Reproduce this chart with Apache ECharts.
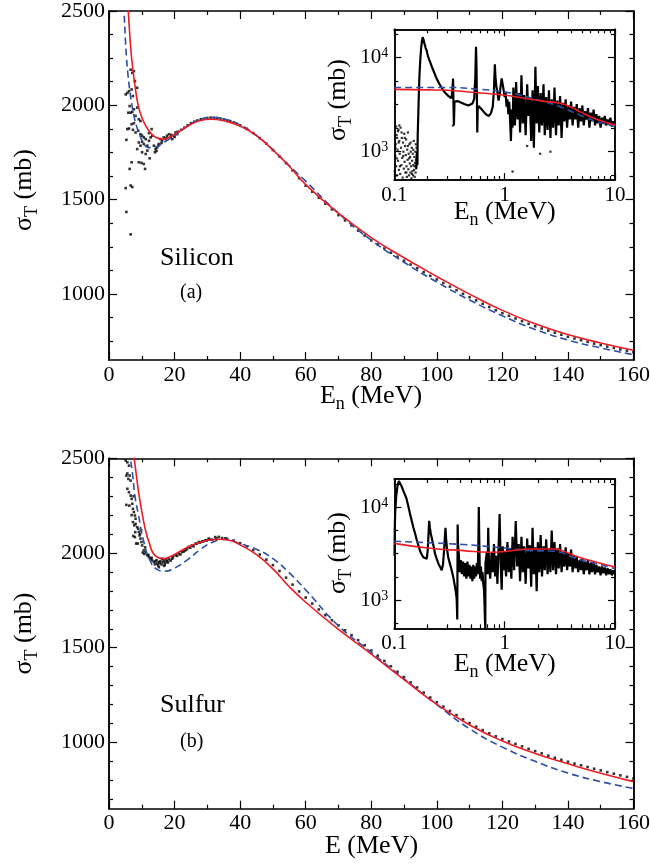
<!DOCTYPE html>
<html><head><meta charset="utf-8">
<script src="https://cdn.jsdelivr.net/npm/echarts@6/dist/echarts.min.js"></script>
<style>html,body{margin:0;padding:0;background:#fff}#c{width:653px;height:864px}</style>
</head><body><div id="c"></div><script>
// ---------- DATA ----------
const mainYMajor = [1000, 1500, 2000, 2500];
const siYMinor = [750, 875, 1125, 1250, 1375, 1625, 1750, 1875, 2125, 2250, 2375];
const sYMinor = [700, 800, 900, 1100, 1200, 1300, 1400, 1600, 1700, 1800, 1900, 2100, 2200, 2300, 2400];
const insetXMajor = [0.1, 1, 10];
const insetXMinor = [0.2, 0.3, 0.4, 0.5, 0.6, 0.7, 0.8, 0.9, 2, 3, 4, 5, 6, 7, 8, 9];
const insetYMajor = [1000, 10000];
const insetYMinor = [562, 1778, 3162, 5623, 17783];

// Silicon, main panel
const siRed = [[5.8,2520],[6.2,2410],[6.6,2310],[7.0,2235],[7.5,2160],[8.0,2095],[8.9,2000],[10,1937],[11.2,1892],[12.5,1858],[14.2,1831],[16.5,1821],[19,1836],[21.5,1862],[25,1900],[28,1920],[31,1926],[35,1918],[40,1890],[45,1839],[50,1763],[55,1677],[60,1580],[70,1428],[80,1299],[90,1192],[100,1093],[110,999],[120,913],[130,842],[140,785],[150,740],[160,702]];
const siBlue = [[4.3,2650],[4.6,2500],[5.0,2350],[5.3,2260],[5.8,2160],[6.3,2085],[7.0,2000],[7.6,1944],[8.3,1895],[9.1,1856],[10.0,1815],[10.8,1790],[12,1776],[13.5,1776],[15,1785],[16.5,1800],[18.5,1822],[21,1852],[25,1902],[28,1926],[31,1935],[35,1927],[40,1896],[45,1840],[50,1765],[55,1680],[60,1598],[70,1428],[80,1285],[90,1168],[100,1063],[110,968],[120,884],[130,812],[140,756],[150,714],[160,678]];
const siDataLow = [[5.1,2058],[5.6,2066],[6.1,2075],[6.6,2189],[7.1,2172],[7.6,2181],[7.9,2128],[8.6,2093],[6.9,2084],[7.3,2049],[6.3,1996],[5.9,1961],[6.6,1961],[7.1,1965],[7.6,1979],[8.1,1944],[8.6,1988],[9.1,1926],[9.6,1917],[6.9,1900],[7.6,1905],[5.6,1874],[6.1,1877],[7.3,1870],[8.1,1856],[8.9,1865],[9.6,1847],[10.1,1839],[10.6,1830],[11.2,1821],[9.1,1803],[9.6,1786],[10.1,1807],[10.6,1795],[11.7,1786],[12.2,1812],[12.7,1830],[13.2,1839],[13.0,1874],[12.2,1853],[5.3,1817],[8.6,1768],[10.1,1751],[11.2,1742],[11.7,1760],[12.4,1719],[14.2,1768],[14.7,1777],[15.2,1795],[15.7,1821],[16.2,1812],[16.7,1830],[17.2,1821],[17.7,1839],[18.3,1847],[18.8,1830],[19.3,1821],[19.8,1839],[20.3,1856],[20.8,1847],[9.1,1698],[9.9,1695],[10.6,1689],[11.0,1663],[6.9,1698],[6.3,1663],[6.6,1575],[7.1,1567],[5.1,1561],[5.3,1435],[6.6,1316],[14.0,1751],[14.5,1758],[15.0,1786],[13.7,1786],[16.0,1800],[17.5,1826],[19.0,1843],[20.0,1832],[21.0,1860]];
const siDataBand = [[22,1870],[23,1881],[24,1894],[25,1905],[26,1913],[27,1920],[28,1926],[29,1929],[30,1933],[31,1935],[32,1934],[33,1933],[34,1930],[35,1926],[36,1921],[37,1916],[38,1909],[39,1902],[40,1894],[42,1875],[44,1853],[46,1826],[48,1797],[50,1763],[52,1729],[54,1694],[56,1655],[58,1614],[60,1574],[62,1542],[64,1510],[66,1479],[68,1448],[70,1418],[72,1390],[74,1363],[76,1336],[78,1310],[80,1284],[82,1263],[84,1241],[86,1219],[88,1197],[90,1176],[92,1156],[94,1136],[96,1116],[98,1096],[100,1077],[102,1058],[104,1039],[106,1020],[108,1001],[110,983],[112,966],[114,948],[116,931],[118,914],[120,898],[122,884],[124,870],[126,856],[128,842],[130,829],[132,817],[134,806],[136,795],[138,784],[140,773],[142,764],[144,755],[146,746],[148,737],[150,729],[152,721],[154,714],[156,706],[158,699],[160,692]];

// Silicon, inset (log-log)
const siInsRed = [[0.1,4592],[0.2,4540],[0.3,4500],[0.5,4280],[0.97,4000],[1.5,3700],[2.2,3450],[3.18,3266],[4.0,2980],[4.8,2666],[6.8,2215],[10,1928]];
const siInsBlue = [[0.1,4820],[0.3,4820],[0.6,4600],[0.97,4340],[1.5,3900],[2.2,3450],[3.18,3006],[4.8,2455],[6.8,2090],[10,1850]];
const siInsLow = [[0.101,620],[0.102,900],[0.103,1200],[0.104,700],[0.105,1500],[0.106,560],[0.107,1050],[0.108,800],[0.109,1700],[0.110,640],[0.111,1300],[0.112,950],[0.113,580],[0.114,1800],[0.115,1100],[0.116,720],[0.117,1400],[0.118,860],[0.119,530],[0.120,1250],[0.121,1000],[0.122,660],[0.123,1550],[0.124,780],[0.125,1150],[0.126,600],[0.127,920],[0.128,1350],[0.129,700],[0.130,540],[0.131,1050],[0.132,820],[0.133,1600],[0.134,650],[0.135,950],[0.136,560],[0.137,1200],[0.138,750],[0.139,880],[0.140,600],[0.141,1000],[0.142,700],[0.143,520],[0.144,1100],[0.145,800],[0.146,620],[0.147,950],[0.148,560],[0.149,720],[0.150,1300],[0.151,640],[0.152,880],[0.153,540],[0.154,760],[0.155,1000],[0.156,600],[0.157,820],[0.158,700],[0.159,1100],[0.104,1850],[0.108,1650],[0.111,1900],[0.106,1400],[0.1025,1100],[0.1055,850],[0.1095,1250],[0.1125,700],[0.1165,1600],[0.1205,900],[0.1245,1400],[0.1285,600],[0.1325,1150],[0.1365,850],[0.1405,1250],[0.1445,580],[0.1485,1050],[0.1525,700],[0.1565,1200],[1.18,615],[2.1,950],[1.6,1150],[2.6,1000],[0.34,1900]];
const siInsData = [[0.158,650],[0.16,1000],[0.162,720],[0.163,1500],[0.165,2500],[0.167,4200],[0.169,6500],[0.172,9500],[0.175,12500],[0.178,15000],[0.181,16500],[0.184,15500],[0.188,14000],[0.192,12800],[0.197,11800],[0.2,10800],[0.205,9800],[0.211,9000],[0.218,8100],[0.226,7300],[0.235,6500],[0.245,5800],[0.255,5300],[0.265,4900],[0.278,4500],[0.29,4200],[0.3,4050],[0.31,3900],[0.32,3800],[0.33,3700],[0.336,4500],[0.341,6000],[0.344,3000],[0.347,1900],[0.351,3400],[0.36,3550],[0.375,3450],[0.39,3400],[0.41,3300],[0.43,3220],[0.45,3150],[0.47,3100],[0.49,3100],[0.51,3250],[0.53,3650],[0.543,6500],[0.55,13000],[0.555,9000],[0.56,4000],[0.565,1600],[0.57,2900],[0.58,3050],[0.6,2950],[0.63,2750],[0.66,2580],[0.69,2450],[0.72,2400],[0.75,2550],[0.78,3000],[0.8,4500],[0.815,8500],[0.825,6300],[0.84,5000],[0.86,4300],[0.88,3500],[0.9,4000],[0.92,5000],[0.94,6000],[0.96,5200],[0.98,4500],[1.0,3800],[1.02,4300],[1.04,3000],[1.06,3600],[1.08,2500],[1.1,3400],[1.12,2200],[1.14,1300],[1.16,2800],[1.18,1800],
[1.2,4800],[1.24,1900],[1.27,5500],[1.31,2200],[1.35,4200],[1.38,1600],[1.42,6500],[1.46,2000],[1.5,4000],[1.55,1500],[1.6,5200],[1.64,2400],[1.69,3800],[1.74,1300],[1.79,4500],[1.84,1100],[1.9,8000],[1.95,2000],[2.0,5000],[2.06,1600],[2.12,4200],[2.18,1900],[2.25,5200],[2.31,1500],[2.38,3800],[2.45,1700],[2.52,4500],[2.6,1400],[2.67,3600],[2.75,1800],[2.83,4800],[2.92,1500],[3.0,3500],[3.09,1900],[3.18,3900],[3.28,1400],[3.37,3300],[3.47,2100],[3.57,3600],[3.68,1800],[3.79,3100],[3.9,2200],[4.0,3400],[4.13,1900],[4.25,3000],[4.38,2200],[4.5,3200],[4.64,1800],[4.78,2900],[4.92,2100],[5.06,3100],[5.21,1900],[5.37,2700],[5.53,2200],[5.69,2900],[5.86,1800],[6.03,2600],[6.21,2100],[6.4,2800],[6.59,1900],[6.78,2500],[6.98,2000],[7.19,2400],[7.4,1800],[7.62,2300],[7.85,2000],[8.08,2400],[8.32,1900],[8.57,2200],[8.82,1950],[9.08,2300],[9.35,1850],[9.63,2100],[9.9,1950]];

// Sulfur, main panel
const sRed = [[7.3,2560],[7.6,2514],[8.5,2390],[9.4,2280],[10.6,2163],[11.4,2102],[12.2,2058],[13.4,2000],[14.9,1976],[16.5,1970],[18,1976],[20,1992],[22,2012],[24.3,2033],[28,2058],[31,2070],[34,2073],[37,2066],[40,2043],[45,1991],[50,1916],[55,1822],[60,1740],[70,1597],[80,1466],[90,1331],[100,1201],[110,1092],[120,1007],[130,942],[140,887],[150,837],[160,793]];
const sBlue = [[6.3,2600],[6.6,2500],[7.3,2400],[8.0,2290],[9,2200],[10.5,2067],[12.5,1961],[14.5,1915],[17,1904],[20,1920],[24,1965],[28,2020],[32,2060],[36,2072],[40,2049],[45,2020],[50,1970],[55,1895],[60,1805],[70,1616],[80,1475],[90,1336],[100,1199],[110,1072],[120,975],[130,900],[140,838],[150,793],[160,757]];
const sDataLow = [[5.1,2488],[5.6,2479],[6.1,2461],[5.3,2409],[5.9,2391],[6.3,2409],[6.6,2382],[5.6,2339],[6.1,2321],[6.6,2303],[6.9,2286],[5.3,2254],[7.1,2260],[7.3,2233],[7.6,2216],[7.9,2198],[8.1,2181],[7.3,2163],[7.7,2146],[8.1,2154],[8.6,2137],[8.9,2128],[9.1,2111],[7.9,2084],[9.3,2093],[9.6,2076],[9.9,2058],[10.1,2040],[10.3,2002],[10.6,2014],[11.2,2005],[11.7,1988],[12.2,1979],[12.7,1970],[13.2,1961],[13.7,1953],[14.2,1956],[14.7,1944],[15.2,1953],[15.7,1956],[16.2,1970],[16.7,1961],[17.2,1949],[17.7,1956],[18.3,1967],[19.3,1970],[20.3,1988],[21.3,1997],[22.3,2005],[23.3,2014],[24.3,2032],[25.3,2040],[26.4,2049],[27.4,2058],[28.4,2061],[29.4,2067],[30.4,2076],[32.4,2084],[34.5,2079],[14.0,1940],[14.5,1962],[15.0,1935],[15.5,1948],[16.0,1940],[16.5,1952],[17.0,1938],[17.5,1965],[18.0,1950],[18.8,1960],[19.5,1978],[20.8,1985],[21.8,1992],[22.8,2008],[23.8,2020],[24.8,2028],[25.8,2035],[26.8,2050],[27.8,2055],[28.8,2062],[29.8,2066],[30.8,2072],[31.5,2070],[32.8,2076],[33.5,2085],[35.5,2078],[15.2,1925],[16.8,1932],[12.0,1990],[13.0,1975],[11.0,2030],[10.8,1995],[8.3,2050],[9.5,2100],[7.5,2300],[6.2,2250],[5.6,2420],[6.9,2200],[8.8,2050],[9.8,2120],[7.4,2090],[8.0,2110]];
const sDataBand = [[36,2075],[38,2066],[40,2052],[42,2035],[44,2015],[46,1992],[48,1965],[50,1936],[52,1905],[54,1870],[56,1833],[58,1797],[60,1765],[62,1733],[64,1702],[66,1672],[68,1645],[70,1618],[72,1592],[74,1566],[76,1540],[78,1513],[80,1485],[82,1458],[84,1430],[86,1402],[88,1373],[90,1345],[92,1317],[94,1290],[96,1263],[98,1237],[100,1212],[102,1189],[104,1166],[106,1144],[108,1122],[110,1102],[112,1083],[114,1065],[116,1048],[118,1032],[120,1018],[122,1005],[124,992],[126,979],[128,966],[130,954],[132,942],[134,930],[136,919],[138,908],[140,898],[142,888],[144,879],[146,870],[148,861],[150,852],[152,843],[154,835],[156,826],[158,818],[160,810]];

// Sulfur, inset (log-log)
const sInsRed = [[0.1,4080],[0.211,3610],[0.422,3410],[0.736,3270],[1.04,3350],[1.7,3550],[2.76,3550],[3.29,3410],[4.5,2950],[6.83,2560],[10,2270]];
const sInsBlue = [[0.1,4290],[0.422,3960],[1.04,3610],[1.7,3410],[2.76,3360],[4.5,2790],[6.83,2470],[10,2180]];
const sInsData = [[0.1005,3000],[0.101,6000],[0.102,9000],[0.104,13000],[0.107,17000],[0.11,19000],[0.113,18500],[0.117,16500],[0.121,14800],[0.125,13500],[0.129,12300],[0.134,10200],[0.139,8400],[0.144,7100],[0.149,6000],[0.155,5100],[0.16,4400],[0.165,3900],[0.171,3400],[0.177,3100],[0.183,2900],[0.19,2820],[0.197,2780],[0.201,3500],[0.204,5000],[0.207,7100],[0.21,6000],[0.214,5200],[0.218,4700],[0.226,3900],[0.234,3150],[0.242,2800],[0.251,2470],[0.26,2280],[0.269,2100],[0.276,2400],[0.283,3500],[0.288,5000],[0.291,6000],[0.295,4500],[0.3,3600],[0.308,2900],[0.318,2500],[0.331,2100],[0.343,1750],[0.355,1390],[0.362,1200],[0.367,1050],[0.37,800],[0.372,620],
[0.375,6500],[0.378,4000],[0.385,3000],[0.39,2000],[0.4,2700],[0.41,1900],[0.42,2600],[0.43,1800],[0.44,2500],[0.45,1700],[0.46,2600],[0.47,1800],[0.48,2400],[0.49,1700],[0.5,2300],[0.51,1600],[0.52,2400],[0.53,1700],[0.54,2300],[0.55,1800],[0.56,2500],[0.57,1900],[0.578,4000],[0.583,10000],[0.588,5000],[0.595,2200],[0.6,1700],[0.61,2300],[0.62,1600],[0.63,2000],[0.64,1500],[0.65,1300],[0.655,1000],[0.66,750],[0.665,550],[0.668,500],
[0.67,2500],[0.69,3300],[0.7,1900],[0.71,6000],[0.72,2600],[0.74,1700],[0.76,3200],[0.78,2000],[0.8,4000],[0.82,1800],[0.84,3000],[0.86,1500],[0.88,3500],[0.9,8400],[0.92,2500],[0.94,1300],[0.96,3800],[0.98,2100],[1.0,3300],[1.03,1800],[1.06,4200],[1.09,2000],[1.12,3600],[1.15,1700],[1.18,4800],[1.22,2100],[1.26,7100],[1.3,2300],[1.34,4000],[1.38,1600],[1.42,4800],[1.46,2000],[1.5,3800],[1.55,1500],[1.6,4600],[1.64,2200],[1.69,3900],[1.74,1400],[1.79,6000],[1.84,1900],[1.9,3700],[1.95,1250],[2.0,4200],[2.06,2000],[2.12,5000],[2.18,1800],[2.25,3800],[2.31,2100],[2.38,4500],[2.45,1900],[2.52,3600],[2.6,2000],[2.67,5600],[2.75,2100],[2.83,4200],[2.92,1900],[3.0,3600],[3.09,2200],[3.18,4000],[3.28,2000],[3.37,3300],[3.47,2300],[3.57,3700],[3.68,2100],[3.79,3200],[3.9,2300],[4.0,3500],[4.13,2000],[4.25,3000],[4.38,2200],[4.5,2900],[4.64,2000],[4.78,2700],[4.92,2100],[5.06,2800],[5.21,1900],[5.37,2600],[5.53,2100],[5.69,2700],[5.86,1900],[6.03,2500],[6.21,2000],[6.4,2600],[6.59,1900],[6.78,2400],[6.98,2000],[7.19,2300],[7.4,1850],[7.62,2300],[7.85,1950],[8.08,2250],[8.32,1850],[8.57,2200],[8.82,1900],[9.08,2150],[9.35,1850],[9.63,2100],[9.9,1900]];

// ---------- STYLE ----------
const FONT = 'Liberation Serif';
const BLACK = '#000';
const RED = '#ec1c24';
const BLUE = '#2b4ea6';
const axLine = {color: BLACK, width: 1.5};
const tkLine = {color: BLACK, width: 1.2};

const xAxes = [], yAxes = [];

function addMainX(g) {
  const i = xAxes.length;
  ['bottom', 'top'].forEach(pos => {
    xAxes.push({
      type: 'value', gridIndex: g, position: pos, min: 0, max: 160, interval: 20,
      splitLine: {show: false}, minorSplitLine: {show: false},
      axisLine: {show: true, onZero: false, lineStyle: axLine},
      axisTick: {show: true, inside: true, length: 8, lineStyle: tkLine},
      minorTick: {show: true, splitNumber: 2, length: 4, lineStyle: tkLine},
      axisLabel: pos === 'bottom' ? {show: true, fontFamily: FONT, fontSize: 22, color: BLACK, margin: 4, formatter: v => String(v)} : {show: false}
    });
  });
  return i;
}
function addMainY(g, minor) {
  const i = yAxes.length;
  ['left', 'right'].forEach(pos => {
    const base = {type: 'value', gridIndex: g, position: pos, min: 650, max: 2500,
      splitLine: {show: false}, axisLine: {show: true, onZero: false, lineStyle: axLine}};
    yAxes.push(Object.assign({}, base, {
      axisLabel: pos === 'left' ? {show: true, customValues: mainYMajor, fontFamily: FONT, fontSize: 22, color: BLACK, margin: 4, formatter: v => String(v)} : {show: false},
      axisTick: {show: true, inside: true, length: 8, customValues: mainYMajor, lineStyle: tkLine}
    }));
    yAxes.push(Object.assign({}, base, {
      axisLabel: {show: false},
      axisTick: {show: true, inside: true, length: 4, customValues: minor, lineStyle: tkLine}
    }));
  });
  return i;
}
function addInsetX(g) {
  const i = xAxes.length;
  ['bottom', 'top'].forEach(pos => {
    const base = {type: 'log', logBase: 10, gridIndex: g, position: pos, min: 0.1, max: 10,
      splitLine: {show: false}, minorSplitLine: {show: false},
      axisLine: {show: true, onZero: false, lineStyle: axLine}};
    xAxes.push(Object.assign({}, base, {
      axisLabel: pos === 'bottom' ? {show: true, customValues: insetXMajor, fontFamily: FONT, fontSize: 21, color: BLACK, margin: 5,
        formatter: v => String(v)} : {show: false},
      axisTick: {show: true, inside: true, length: 7, customValues: insetXMajor, lineStyle: tkLine}
    }));
    xAxes.push(Object.assign({}, base, {
      axisLabel: {show: false},
      axisTick: {show: true, inside: true, length: 4, customValues: insetXMinor, lineStyle: tkLine}
    }));
  });
  return i;
}
function addInsetY(g) {
  const i = yAxes.length;
  ['left', 'right'].forEach(pos => {
    const base = {type: 'log', logBase: 10, gridIndex: g, position: pos, min: 500, max: 20000,
      splitLine: {show: false}, minorSplitLine: {show: false},
      axisLine: {show: true, onZero: false, lineStyle: axLine}};
    yAxes.push(Object.assign({}, base, {
      axisLabel: pos === 'left' ? {show: true, customValues: insetYMajor, margin: 6,
        formatter: v => '{a|10}{p|' + Math.round(Math.log10(v)) + '}',
        rich: {a: {fontFamily: FONT, fontSize: 21, color: BLACK},
               p: {fontFamily: FONT, fontSize: 14, color: BLACK, verticalAlign: 'top', padding: [0, 0, 8, 0]}}} : {show: false},
      axisTick: {show: true, inside: true, length: 7, customValues: insetYMajor, lineStyle: tkLine}
    }));
    yAxes.push(Object.assign({}, base, {
      axisLabel: {show: false},
      axisTick: {show: true, inside: true, length: 4, customValues: insetYMinor, lineStyle: tkLine}
    }));
  });
  return i;
}

const grids = [
  {left: 109, top: 9.3, width: 526, height: 350.7},
  {left: 394.3, top: 29.3, width: 220.7, height: 150.7},
  {left: 109, top: 458.3, width: 526, height: 350.4},
  {left: 394.3, top: 479, width: 220.7, height: 149.3}
];
const axA = addMainX(0), ayA = addMainY(0, siYMinor);
const axAi = addInsetX(1), ayAi = addInsetY(1);
const axB = addMainX(2), ayB = addMainY(2, sYMinor);
const axBi = addInsetX(3), ayBi = addInsetY(3);

function dots(data, xi, yi, size) {
  return {type: 'scatter', xAxisIndex: xi, yAxisIndex: yi, data: data, symbol: 'rect', symbolSize: size,
    itemStyle: {color: BLACK}, silent: true, z: 2};
}
function curve(data, xi, yi, color, dashed, z) {
  return {type: 'line', xAxisIndex: xi, yAxisIndex: yi, data: data, symbol: 'none', smooth: 0.5,
    lineStyle: {color: color, width: 1.6, type: dashed ? [7, 4] : 'solid'}, silent: true, z: z};
}
function trace(data, xi, yi) {
  return {type: 'line', xAxisIndex: xi, yAxisIndex: yi, data: data, symbol: 'none',
    lineStyle: {color: BLACK, width: 2.2, join: 'bevel'}, silent: true, z: 2};
}

const series = [
  dots(siDataLow.concat(siDataBand), axA, ayA, 2.6),
  curve(siBlue, axA, ayA, BLUE, true, 3),
  curve(siRed, axA, ayA, RED, false, 4),
  trace(siInsData, axAi, ayAi),
  dots(siInsLow, axAi, ayAi, 2.2),
  curve(siInsBlue, axAi, ayAi, BLUE, true, 3),
  curve(siInsRed, axAi, ayAi, RED, false, 4),
  dots(sDataLow.concat(sDataBand), axB, ayB, 2.6),
  curve(sBlue, axB, ayB, BLUE, true, 3),
  curve(sRed, axB, ayB, RED, false, 4),
  trace(sInsData, axBi, ayBi),
  curve(sInsBlue, axBi, ayBi, BLUE, true, 3),
  curve(sInsRed, axBi, ayBi, RED, false, 4)
];

const richTitle = (size) => ({
  a: {fontFamily: FONT, fontSize: size, fill: BLACK, color: BLACK, lineHeight: size + 4, verticalAlign: 'top'},
  b: {fontFamily: FONT, fontSize: Math.round(size * 0.7), fill: BLACK, color: BLACK, lineHeight: Math.round(size * 0.7), verticalAlign: 'bottom', padding: [15, 0, 0, 0]}
});
function gtext(x, y, text, size, rot, align, rich) {
  const st = {text: text, x: 0, y: 0, fontFamily: FONT, fontSize: size, fill: BLACK,
    align: align, textAlign: align, verticalAlign: 'middle', textVerticalAlign: 'middle'};
  if (rich) st.rich = richTitle(size);
  return {type: 'text', x: x, y: y, rotation: rot, style: st, silent: true, z: 10};
}
const sigmaTitle = '{a|σ}{b|T}{a| (mb)}';
const enTitle = '{a|E}{b|n}{a| (MeV)}';
const graphics = [
  gtext(26, 190, sigmaTitle, 26, Math.PI / 2, 'center', true),
  gtext(26, 633.5, sigmaTitle, 26, Math.PI / 2, 'center', true),
  gtext(340, 100, sigmaTitle, 26, Math.PI / 2, 'center', true),
  gtext(340, 553, sigmaTitle, 26, Math.PI / 2, 'center', true),
  gtext(371, 398, enTitle, 26, 0, 'center', true),
  gtext(371.5, 848, '{a|E (MeV)}', 26, 0, 'center', true),
  gtext(504.7, 214, enTitle, 26, 0, 'center', true),
  gtext(504.7, 666, enTitle, 26, 0, 'center', true),
  gtext(160, 258, 'Silicon', 26, 0, 'left', false),
  gtext(180, 293, '(a)', 20, 0, 'left', false),
  gtext(160, 705, 'Sulfur', 26, 0, 'left', false),
  gtext(180, 741.5, '(b)', 20, 0, 'left', false)
];

const chart = echarts.init(document.getElementById('c'), null, {renderer: 'canvas'});
chart.setOption({
  animation: false,
  backgroundColor: '#fff',
  grid: grids,
  xAxis: xAxes,
  yAxis: yAxes,
  series: series,
  graphic: graphics
});
</script></body></html>
